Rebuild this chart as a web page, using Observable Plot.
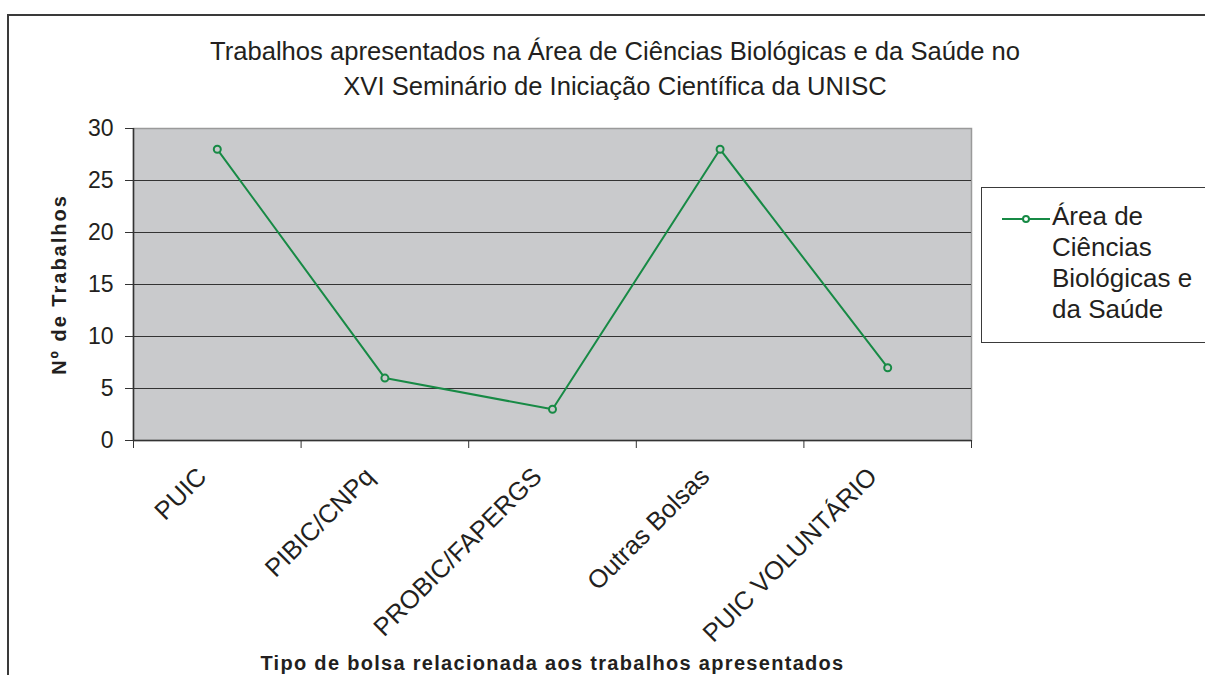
<!DOCTYPE html>
<html>
<head>
<meta charset="utf-8">
<script src="https://cdn.jsdelivr.net/npm/d3@7"></script>
<script src="https://cdn.jsdelivr.net/npm/@observablehq/plot@0.6"></script>
<style>
  body { margin: 0; background: #fff; font-family: "Liberation Sans", Arial, sans-serif; color: #231f20; }
  #wrap { position: relative; width: 1205px; height: 675px; overflow: hidden; background: #fff; }
  #frame { position: absolute; left: 7px; top: 14px; width: 1400px; height: 900px; border: 2px solid #3a3a3a; box-sizing: border-box; }
  #title { position: absolute; left: 115px; width: 1000px; top: 34px; text-align: center; font-size: 25.6px; line-height: 35px; white-space: nowrap; }
  #chart { position: absolute; left: 0; top: 0; }
  #legend { position: absolute; left: 981px; top: 187px; width: 400px; height: 156px; border: 1px solid #3a3a3a; background: #fff; box-sizing: border-box; }
  #legend svg { position: absolute; left: 0; top: 0; }
  #legend .lbl { position: absolute; left: 70px; top: 13px; font-size: 26px; line-height: 31px; white-space: nowrap; }
</style>
</head>
<body>
<div id="wrap">
  <div id="frame"></div>
  <div id="title"></div>
  <div id="chart"></div>
  <div id="legend"></div>
</div>
<script>
const titleLines = ["Trabalhos apresentados na Área de Ciências Biológicas e da Saúde no", "XVI Seminário de Iniciação Científica da UNISC"];
const categories = ["PUIC", "PIBIC/CNPq", "PROBIC/FAPERGS", "Outras Bolsas", "PUIC VOLUNTÁRIO"];
const values = [28, 6, 3, 28, 7];
const yTicks = [0, 5, 10, 15, 20, 25, 30];
const yLabel = "Nº de Trabalhos";
const xLabel = "Tipo de bolsa relacionada aos trabalhos apresentados";
const legendLines = ["Área de", "Ciências", "Biológicas e", "da Saúde"];

const green = "#178a45";
const plotFill = "#c9cacc";

const data = categories.map((c, i) => ({cat: c, pos: i + 0.5, value: values[i]}));
const xBoundaries = d3.range(categories.length + 1);
const innerGrid = yTicks.filter(t => t > yTicks[0] && t < yTicks[yTicks.length - 1]);

document.getElementById("title").innerHTML = titleLines.map(s => `<div>${s}</div>`).join("");

const chart = Plot.plot({
  width: 1205,
  height: 675,
  marginLeft: 133,
  marginRight: 234,
  marginTop: 128,
  marginBottom: 235,
  style: {fontFamily: "Liberation Sans, Arial, sans-serif", fontSize: "23px", color: "#231f20", background: "transparent", overflow: "visible"},
  x: {domain: [0, categories.length], axis: null},
  y: {domain: [yTicks[0], yTicks[yTicks.length - 1]], axis: null},
  marks: [
    Plot.frame({fill: plotFill, stroke: "#9a9a9a", strokeWidth: 1.5}),
    Plot.ruleY(innerGrid, {stroke: "#333", strokeWidth: 1}),
    Plot.axisY({ticks: yTicks, tickSize: 8, tickPadding: 12, fontSize: 23, label: null, stroke: "#333", fill: "#231f20"}),
    Plot.axisX({ticks: xBoundaries, tickSize: 8, tickFormat: () => "", label: null, stroke: "#333"}),
    Plot.ruleX([0], {stroke: "#333", strokeWidth: 1.5}),
    Plot.ruleY([0], {stroke: "#333", strokeWidth: 1.5}),
    Plot.line(data, {x: "pos", y: "value", stroke: green, strokeWidth: 2}),
    Plot.dot(data, {x: "pos", y: "value", r: 3.5, stroke: green, fill: plotFill, strokeWidth: 2}),
    Plot.text(data, {x: "pos", text: "cat", frameAnchor: "bottom", rotate: -45, textAnchor: "end", lineAnchor: "top", dx: -22, dy: 25, fontSize: 25.5, fill: "#231f20"}),
    Plot.text([yLabel], {text: d => d, frameAnchor: "left", rotate: -90, dx: -74, fontWeight: "bold", fontSize: 20, textAnchor: "middle", lineAnchor: "middle", fill: "#231f20"}),
    Plot.text([xLabel], {text: d => d, frameAnchor: "bottom", dy: 223, fontWeight: "bold", fontSize: 20, textAnchor: "middle", lineAnchor: "middle", fill: "#231f20"})
  ]
});
chart.querySelectorAll("text").forEach(t => {
  if (t.textContent === yLabel) t.style.letterSpacing = "2px";
  if (t.textContent === xLabel) t.style.letterSpacing = "1.3px";
});
document.getElementById("chart").appendChild(chart);

const legend = document.getElementById("legend");
legend.innerHTML = `<svg width="100" height="60"><line x1="20" x2="68" y1="31" y2="31" stroke="${green}" stroke-width="2"/><circle cx="44" cy="31" r="3" stroke="${green}" stroke-width="2" fill="#fff"/></svg><div class="lbl">${legendLines.join("<br>")}</div>`;
</script>
</body>
</html>
